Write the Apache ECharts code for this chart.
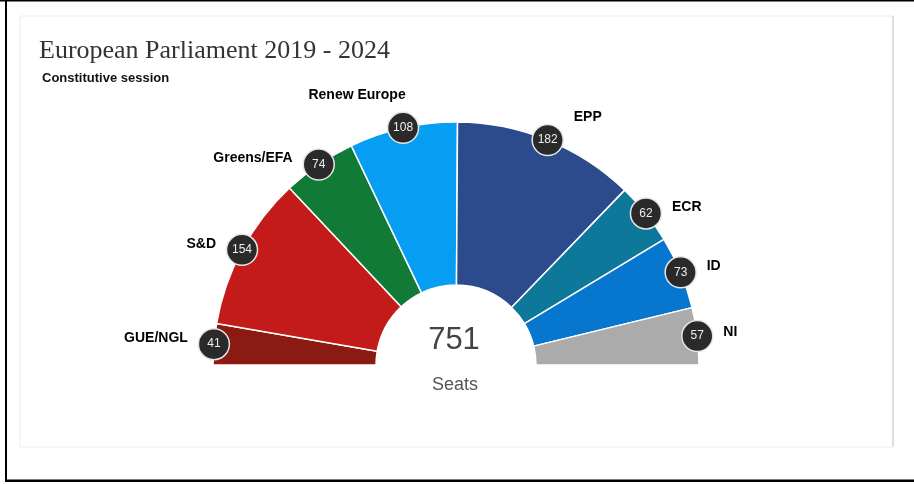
<!DOCTYPE html>
<html>
<head>
<meta charset="utf-8">
<script src="https://cdn.jsdelivr.net/npm/echarts@6/dist/echarts.min.js"></script>
<style>
html,body{margin:0;padding:0;background:#fff;}
#chart{width:914px;height:484px;}
</style>
</head>
<body>
<div id="chart"></div>
<script>
// ---- data ----
var parties = ['GUE/NGL', 'S&D', 'Greens/EFA', 'Renew Europe', 'EPP', 'ECR', 'ID', 'NI'];
var seats = [41, 154, 74, 108, 182, 62, 73, 57];
var partyColors = ['#8b1a12', '#c21b19', '#107a36', '#069ef3', '#2c4b8d', '#0e789b', '#0776cf', '#ababab'];
var titleText = 'European Parliament 2019 - 2024';
var subtitleText = 'Constitutive session';
var centerCaption = 'Seats';

// ---- layout (not data) ----
var labelSide = ['left', 'left', 'left', 'top', 'right', 'right', 'right', 'right'];
var labelOffset = [[0, -6], [0, -6], [0, -6], [-46, -5], [0, -23], [0, -6], [0, -6], [0, -4]];

var total = seats.reduce(function (a, b) { return a + b; }, 0);
var cx = 456, cy = 365, rIn = 80, rOut = 243;

var mids = [];
var acc = 0;
for (var i = 0; i < seats.length; i++) {
  mids.push(acc + seats[i] / 2);
  acc += seats[i];
}

var pieData = parties.map(function (p, i) {
  return { name: p, value: seats[i], itemStyle: { color: partyColors[i] } };
});
var badgeData = mids.map(function (m, i) {
  return { value: [1, m], name: parties[i], seats: seats[i] };
});
var nameData = mids.map(function (m, i) {
  return {
    value: [1, m],
    label: {
      show: true,
      position: labelSide[i],
      distance: labelSide[i] === 'top' ? 5 : 10.5,
      offset: labelOffset[i],
      formatter: parties[i]
    }
  };
});

var chart = echarts.init(document.getElementById('chart'), null, { renderer: 'canvas' });
chart.setOption({
  backgroundColor: '#ffffff',
  animation: false,
  title: [
    {
      text: titleText,
      left: 39, top: 38, padding: 0,
      textStyle: { fontFamily: 'Liberation Serif', fontWeight: 'normal', fontSize: 26, color: '#333333' }
    },
    {
      text: subtitleText,
      left: 42, top: 72, padding: 0,
      textStyle: { fontFamily: 'Liberation Sans', fontWeight: 'bold', fontSize: 13, color: '#111111' }
    },
    {
      text: String(total),
      left: cx - 2, top: 340, padding: 0, textAlign: 'center', textVerticalAlign: 'middle',
      textStyle: { fontFamily: 'Liberation Sans', fontWeight: 'normal', fontSize: 31, color: '#444444' }
    },
    {
      text: centerCaption,
      left: cx - 1, top: 385, padding: 0, textAlign: 'center', textVerticalAlign: 'middle',
      textStyle: { fontFamily: 'Liberation Sans', fontWeight: 'normal', fontSize: 18, color: '#555555' }
    }
  ],
  graphic: [
    { type: 'rect', shape: { x: 20, y: 16, width: 873, height: 431 }, style: { fill: 'none', stroke: '#ececec', lineWidth: 1 }, z: -1 },
    { type: 'line', shape: { x1: 893, y1: 16, x2: 893, y2: 447 }, style: { stroke: '#cfcfcf', lineWidth: 1.2 }, z: -1 },
    { type: 'rect', shape: { x: 0, y: 0, width: 914, height: 1.5 }, style: { fill: '#000' } },
    { type: 'rect', shape: { x: 5, y: 0, width: 2, height: 482 }, style: { fill: '#000' } },
    { type: 'rect', shape: { x: 5, y: 479.5, width: 909, height: 2.5 }, style: { fill: '#000' } }
  ],
  polar: { center: [cx, cy], radius: [0, rOut] },
  angleAxis: { type: 'value', min: 0, max: total * 2, startAngle: 180, clockwise: true, show: false },
  radiusAxis: { type: 'value', min: 0, max: 1, show: false },
  series: [
    {
      type: 'pie',
      center: [cx, cy],
      radius: [rIn, rOut],
      startAngle: 180,
      endAngle: 0,
      clockwise: true,
      silent: true,
      label: { show: false },
      labelLine: { show: false },
      itemStyle: { borderColor: '#ffffff', borderWidth: 1.5 },
      data: pieData,
      z: 1
    },
    {
      type: 'scatter',
      coordinateSystem: 'polar',
      symbol: 'circle',
      symbolSize: 31,
      silent: true,
      itemStyle: { color: '#2a2a2a', borderColor: '#e6e6e6', borderWidth: 1.5, opacity: 1 },
      label: {
        show: true, position: 'inside',
        formatter: function (p) { return p.data.seats; },
        fontFamily: 'Liberation Sans', fontSize: 12, color: '#eeeeee'
      },
      data: badgeData,
      z: 5
    },
    {
      type: 'scatter',
      coordinateSystem: 'polar',
      symbolSize: 31,
      silent: true,
      itemStyle: { color: 'rgba(0,0,0,0)', opacity: 1 },
      label: {
        show: true,
        fontFamily: 'Liberation Sans', fontWeight: 'bold', fontSize: 14, color: '#000000'
      },
      data: nameData,
      z: 6
    }
  ]
});
</script>
</body>
</html>
